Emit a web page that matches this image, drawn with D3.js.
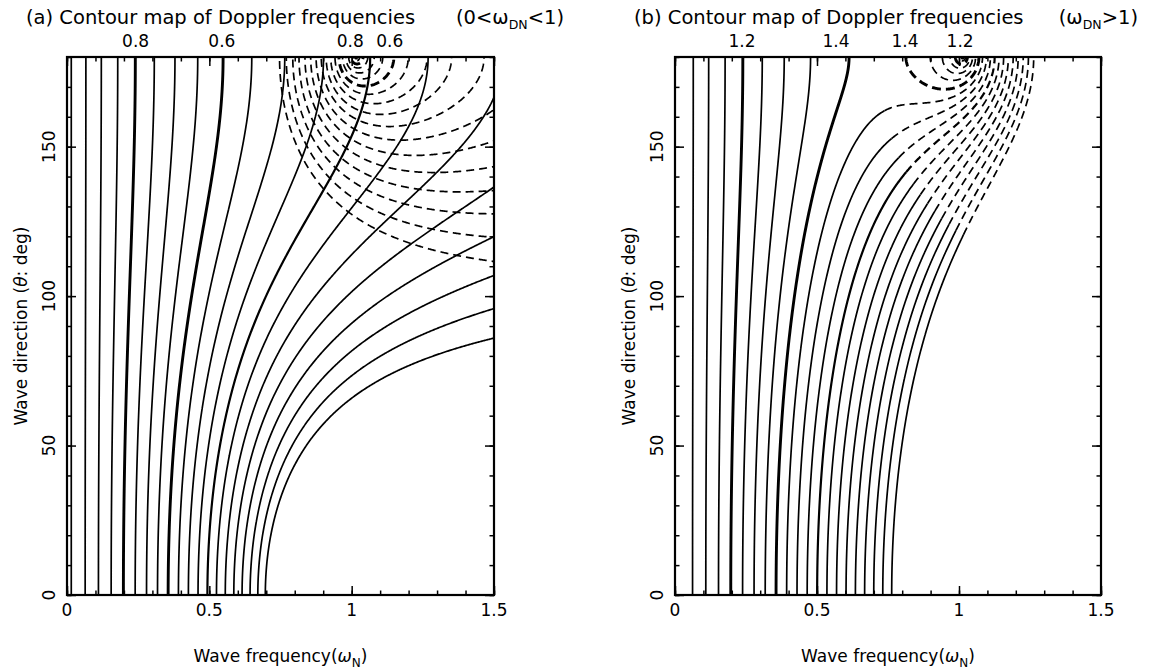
<!DOCTYPE html>
<html>
<head>
<meta charset="utf-8">
<script src="https://cdn.jsdelivr.net/npm/d3@7"></script>
<style>
  body { margin: 0; background: #fff; }
  text { font-family: "DejaVu Sans", "Liberation Sans", sans-serif; fill: #000; }
</style>
</head>
<body>
<svg id="chart" width="1150" height="669"></svg>
<script>
// ---------------- data ----------------
// contour levels of the normalised Doppler frequency
const levelsA_solid  = [0.05,0.10,0.15,0.20,0.25,0.30,0.35,0.40,0.45,0.50,0.55,0.60,0.65,0.70,0.75,0.80,0.85,0.90,0.95,1.00];
const levelsA_dashed = [0.05,0.10,0.15,0.20,0.25,0.30,0.35,0.40,0.45,0.50,0.55,0.60,0.65,0.70,0.75,0.80,0.85,0.90,0.95];
const levelsB        = [1.05,1.10,1.15,1.20,1.25,1.30,1.35,1.40,1.45,1.50,1.55,1.60,1.65,1.70,1.75,1.80,1.85,1.90,1.95,2.00];
const thickA  = [0.6,0.8];
const mediumA = [0.4];
const thickB  = [1.2,1.4];
const mediumB = [1.6];
// labels written above the top frame (text, wave frequency)
const topLabelsA = [["0.8",0.241],["0.6",0.544],["0.8",0.995],["0.6",1.134]];
const topLabelsB = [["1.2",0.236],["1.4",0.567],["1.4",0.810],["1.2",1.004]];
// axes
const xTicksMajor = [0,0.5,1,1.5];
const xTickLabels = ["0","0.5","1","1.5"];
const xTicksMinor = [0,0.1,0.2,0.3,0.4,0.5,0.6,0.7,0.8,0.9,1.0,1.1,1.2,1.3,1.4,1.5];
const yTicksMajor = [0,50,100,150];
const yTicksMinor = [0,10,20,30,40,50,60,70,80,90,100,110,120,130,140,150,160,170,180];
// small shift of the contour grid relative to the frame, seen in the original plot
const gridShiftA = 0.015, gridShiftB = 0.013;

// ---------------- Doppler relation (second-order sea echo) ----------------
const rPlus  = (w,t) => Math.pow(Math.abs(1 + w*w*w*w + 2*w*w*Math.cos(t)), 0.25);
const rMinus = (w,t) => Math.pow(Math.abs(1 + w*w*w*w - 2*w*w*Math.cos(t)), 0.25);

// grid
const w0 = -0.05, dw = 0.0025, nx = 641;
const t0 = -10, dt = 0.5, ny = 401;
function field(fn) {
  const v = new Float64Array(nx*ny);
  for (let j = 0; j < ny; j++) {
    const t = (t0 + j*dt) * Math.PI/180;
    for (let i = 0; i < nx; i++) v[j*nx+i] = fn(w0 + i*dw, t);
  }
  return v;
}
const toModel = p => [w0 + (p[0]-0.5)*dw, t0 + (p[1]-0.5)*dt];
function isolines(values, levels) {
  const gen = d3.contours().size([nx, ny]).thresholds(levels);
  const out = [];
  gen(values).forEach(c => {
    const lines = [];
    c.coordinates.forEach(poly => poly.forEach(ring => {
      const pts = ring.slice(0, -1);
      const n = pts.length; if (n < 2) return;
      const onB = p => p[0] <= 0 || p[0] >= nx || p[1] <= 0 || p[1] >= ny;
      const s = pts.findIndex(onB);
      if (s < 0) { lines.push(pts.concat([pts[0]]).map(toModel)); return; }
      let cur = [];
      for (let k = 1; k <= n; k++) {
        const p = pts[(s+k) % n];
        if (onB(p)) { if (cur.length > 1) lines.push(cur.map(toModel)); cur = []; }
        else cur.push(p);
      }
      if (cur.length > 1) lines.push(cur.map(toModel));
    }));
    out.push({level: c.value, lines});
  });
  return out;
}
function splitBy(line, cls) {
  const runs = [];
  let cur = [line[0]], c = cls(line[0]);
  for (let k = 1; k < line.length; k++) {
    const cc = cls(line[k]);
    cur.push(line[k]);
    if (cc !== c) { runs.push({dashed: c, pts: cur}); cur = [line[k]]; c = cc; }
  }
  runs.push({dashed: c, pts: cur});
  return runs;
}
const inList = (lv, list) => list.some(t => Math.abs(t - lv) < 1e-6);
const weight = (lv, thick, medium) => inList(lv, thick) ? 2 : (inList(lv, medium) ? 1 : 0);

// ---------------- drawing ----------------
const svg = d3.select("#chart");
const yTop = 57, yBot = 595;
const y = d3.scaleLinear().domain([0,180]).range([yBot, yTop]);

const panels = [
  {key:"a", left:67, right:494, shift:gridShiftA,
   title:"(a) Contour map of Doppler frequencies", tx:26, rx:564, range:["(0<ω","DN","<1)"], labels:topLabelsA},
  {key:"b", left:675, right:1101, shift:gridShiftB,
   title:"(b) Contour map of Doppler frequencies", tx:634, rx:1138, range:["(ω","DN",">1)"], labels:topLabelsB}
];

const widths = [1.7, 2.2, 2.9];

panels.forEach(P => {
  const x = d3.scaleLinear().domain([0,1.5]).range([P.left, P.right]);
  const g = svg.append("g");
  g.append("clipPath").attr("id","clip"+P.key)
    .append("rect").attr("x",P.left).attr("y",yTop).attr("width",P.right-P.left).attr("height",yBot-yTop);
  const plot = g.append("g").attr("clip-path","url(#clip"+P.key+")");
  const line = d3.line().x(d => x(d[0] + P.shift)).y(d => y(d[1]));

  const draw = (pts, wt, dashed) => {
    plot.append("path").attr("d", line(pts)).attr("fill","none").attr("stroke","#000")
      .attr("stroke-width", widths[wt])
      .attr("stroke-linejoin","round")
      .attr("stroke-dasharray", dashed ? (wt === 2 ? "9,5" : "8,5") : null);
  };

  if (P.key === "a") {
    isolines(field((w,t) => rMinus(w,t) - w), levelsA_solid).forEach(c =>
      c.lines.forEach(l => draw(l, weight(c.level, thickA, mediumA), false)));
    isolines(field((w,t) => w - rPlus(w,t)), levelsA_dashed).forEach(c =>
      c.lines.forEach(l => draw(l, weight(c.level, thickA, []), true)));
  } else {
    const cls = p => p[0] > rPlus(p[0], p[1]*Math.PI/180);
    isolines(field((w,t) => w + rPlus(w,t)), levelsB).forEach(c =>
      c.lines.forEach(l => splitBy(l, cls).forEach(r => draw(r.pts, weight(c.level, thickB, mediumB), r.dashed))));
  }

  // axes ticks (inward)
  const tickStyle = sel => { sel.select(".domain").remove(); sel.selectAll("line").attr("stroke","#000").attr("stroke-width",1.5); sel.selectAll("text").remove(); };
  g.append("g").attr("transform",`translate(0,${yBot})`).call(d3.axisBottom(x).tickValues(xTicksMinor).tickSize(-4.5).tickSizeOuter(0)).call(tickStyle);
  g.append("g").attr("transform",`translate(0,${yBot})`).call(d3.axisBottom(x).tickValues(xTicksMajor).tickSize(-9).tickSizeOuter(0)).call(tickStyle);
  g.append("g").attr("transform",`translate(0,${yTop})`).call(d3.axisTop(x).tickValues(xTicksMinor).tickSize(-4.5).tickSizeOuter(0)).call(tickStyle);
  g.append("g").attr("transform",`translate(0,${yTop})`).call(d3.axisTop(x).tickValues(xTicksMajor).tickSize(-9).tickSizeOuter(0)).call(tickStyle);
  g.append("g").attr("transform",`translate(${P.left},0)`).call(d3.axisLeft(y).tickValues(yTicksMinor).tickSize(-4.5).tickSizeOuter(0)).call(tickStyle);
  g.append("g").attr("transform",`translate(${P.left},0)`).call(d3.axisLeft(y).tickValues(yTicksMajor).tickSize(-9).tickSizeOuter(0)).call(tickStyle);
  g.append("g").attr("transform",`translate(${P.right},0)`).call(d3.axisRight(y).tickValues(yTicksMinor).tickSize(-4.5).tickSizeOuter(0)).call(tickStyle);
  g.append("g").attr("transform",`translate(${P.right},0)`).call(d3.axisRight(y).tickValues(yTicksMajor).tickSize(-9).tickSizeOuter(0)).call(tickStyle);

  // frame
  g.append("rect").attr("x",P.left).attr("y",yTop).attr("width",P.right-P.left).attr("height",yBot-yTop)
    .attr("fill","none").attr("stroke","#000").attr("stroke-width",2.2);

  // x tick labels
  xTicksMajor.forEach((v,i) => g.append("text").attr("x", x(v)).attr("y", 616)
    .attr("text-anchor","middle").attr("font-size",17).text(xTickLabels[i]));
  // y tick labels (rotated)
  yTicksMajor.forEach(v => g.append("text")
    .attr("transform",`translate(${P.left-12},${y(v)}) rotate(-90)`)
    .attr("text-anchor","middle").attr("font-size",17).text(String(v)));

  // axis titles
  const xt = g.append("text").attr("x",(P.left+P.right)/2).attr("y",662).attr("text-anchor","middle").attr("font-size",17);
  xt.append("tspan").text("Wave frequency(");
  xt.append("tspan").attr("font-style","italic").text("ω");
  xt.append("tspan").attr("dy",5).attr("font-size",12).text("N");
  xt.append("tspan").attr("dy",-5).text(")");

  const yt = g.append("text").attr("transform",`translate(${P.left-40},${(yTop+yBot)/2}) rotate(-90)`)
    .attr("text-anchor","middle").attr("font-size",17);
  yt.append("tspan").text("Wave direction (");
  yt.append("tspan").attr("font-style","italic").text("θ");
  yt.append("tspan").text(": deg)");

  // titles
  g.append("text").attr("x",P.tx).attr("y",24).attr("font-size",19.5).text(P.title);
  const rt = g.append("text").attr("x",P.rx).attr("y",24).attr("text-anchor","end").attr("font-size",19.5);
  rt.append("tspan").text(P.range[0]);
  rt.append("tspan").attr("dy",5).attr("font-size",12.5).text(P.range[1]);
  rt.append("tspan").attr("dy",-5).text(P.range[2]);

  // contour labels above the frame
  P.labels.forEach(([t,v]) => g.append("text").attr("x",x(v)).attr("y",47)
    .attr("text-anchor","middle").attr("font-size",17).text(t));
});
</script>
</body>
</html>
